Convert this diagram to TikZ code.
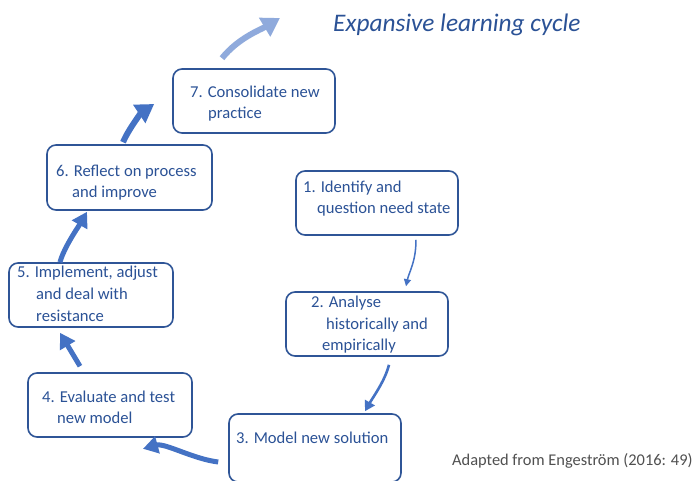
\documentclass[tikz,border=0pt]{standalone}
\usepackage{fontspec}
\setmainfont{Carlito}
\usetikzlibrary{arrows.meta}
\definecolor{boxblue}{HTML}{2F5597}
\definecolor{txtblue}{HTML}{2B5296}
\definecolor{arrblue}{HTML}{4472C4}
\definecolor{lightarr}{HTML}{8FAADC}
\definecolor{credgray}{HTML}{505050}
\begin{document}
\begin{tikzpicture}[x=1pt,y=-1pt,
  stepbox/.style={draw=boxblue,line width=1.6pt,rounded corners=9pt,inner sep=0pt},
  ln/.style={anchor=base west,inner sep=0pt,text=txtblue,font=\fontsize{16.6}{19}\selectfont},
  thinarr/.style={draw=arrblue,line width=1.5pt,-{Triangle[width=7pt,length=7pt]}},
  medarr/.style={draw=arrblue,line width=2.6pt,-{Triangle[width=11pt,length=10pt]}},
  bigarr/.style={draw=arrblue,line width=5pt,-{Triangle[width=17pt,length=15pt]}},
  hugearr/.style={draw=arrblue,line width=6pt,-{Triangle[width=21pt,length=18pt]}},
  outarr/.style={draw=lightarr,line width=6pt,-{Triangle[width=21pt,length=18pt]}}]
\useasboundingbox[fill=white] (0,0) rectangle (694,481);

% boxes
\node[stepbox,minimum width=162pt,minimum height=64pt] (b1) at (377,203) {};
\node[stepbox,minimum width=162pt,minimum height=64pt] (b2) at (367,324) {};
\node[stepbox,minimum width=172pt,minimum height=68pt] (b3) at (315,448) {};
\node[stepbox,minimum width=164pt,minimum height=64pt] (b4) at (110,405) {};
\node[stepbox,minimum width=164pt,minimum height=64pt] (b5) at (91,295) {};
\node[stepbox,minimum width=165pt,minimum height=65pt] (b6) at (129.5,177.5) {};
\node[stepbox,minimum width=162pt,minimum height=64pt] (b7) at (254,101) {};

% texts
\node[ln] (t7a) at (190,98) {7. Consolidate new};
\node[ln] (t7b) at (208,119) {practice};
\node[ln] (t6a) at (56,177) {6. Reflect on process};
\node[ln] (t6b) at (72,198) {and improve};
\node[ln] (t1a) at (303,193) {1. Identify and};
\node[ln] (t1b) at (317,214) {question need state};
\node[ln] (t2a) at (311,308) {2. Analyse};
\node[ln] (t2b) at (326,330) {historically and};
\node[ln] (t2c) at (322,351) {empirically};
\node[ln] (t3a) at (236,443) {3. Model new solution};
\node[ln] (t5a) at (17,278) {5. Implement, adjust};
\node[ln] (t5b) at (36,300) {and deal with};
\node[ln] (t5c) at (36,322) {resistance};
\node[ln] (t4a) at (42,402) {4. Evaluate and test};
\node[ln] (t4b) at (57,423) {new model};

% title and credit
\node[anchor=base west,inner sep=0pt,text=txtblue,font=\fontsize{25.3}{30}\selectfont\itshape] (title) at (333,32) {Expansive learning cycle};
\node[anchor=base west,inner sep=0pt,text=credgray,font=\fontsize{16.4}{19}\selectfont] (cred) at (452,465) {Adapted from Engeström (2016: 49)};

% connectors
\draw[thinarr] ([shift={(39,4)}]b1.south) .. controls +(0,22) and +(3,-14) .. ([shift={(39,-5)}]b2.north);
\draw[medarr] ([shift={(22,8)}]b2.south) .. controls +(-4,16) and +(8,-14) .. ([shift={(50,-2)}]b3.north);
\draw[bigarr] ([shift={(-10,14)}]b3.west) .. controls +(-25,-3) and +(22,-6) .. ([shift={(33,11)}]b4.south);
\draw[bigarr] ([shift={(-30,-6)}]b4.north) -- ([shift={(-31,5)}]b5.south);
\draw[bigarr] ([shift={(-31,0)}]b5.north) .. controls +(4,-15) and +(-8,14) .. ([shift={(-42.5,1)}]b6.south);
\draw[hugearr] ([shift={(-6.5,-2)}]b6.north) .. controls +(6,-14) and +(-12,8) .. ([shift={(-18,3)}]b7.west);
\coordinate (outend) at (280,18);
\draw[outarr] ([shift={(-32,-10)}]b7.north) .. controls +(16,-20) and +(-20,12) .. (outend);
\end{tikzpicture}
\end{document}
